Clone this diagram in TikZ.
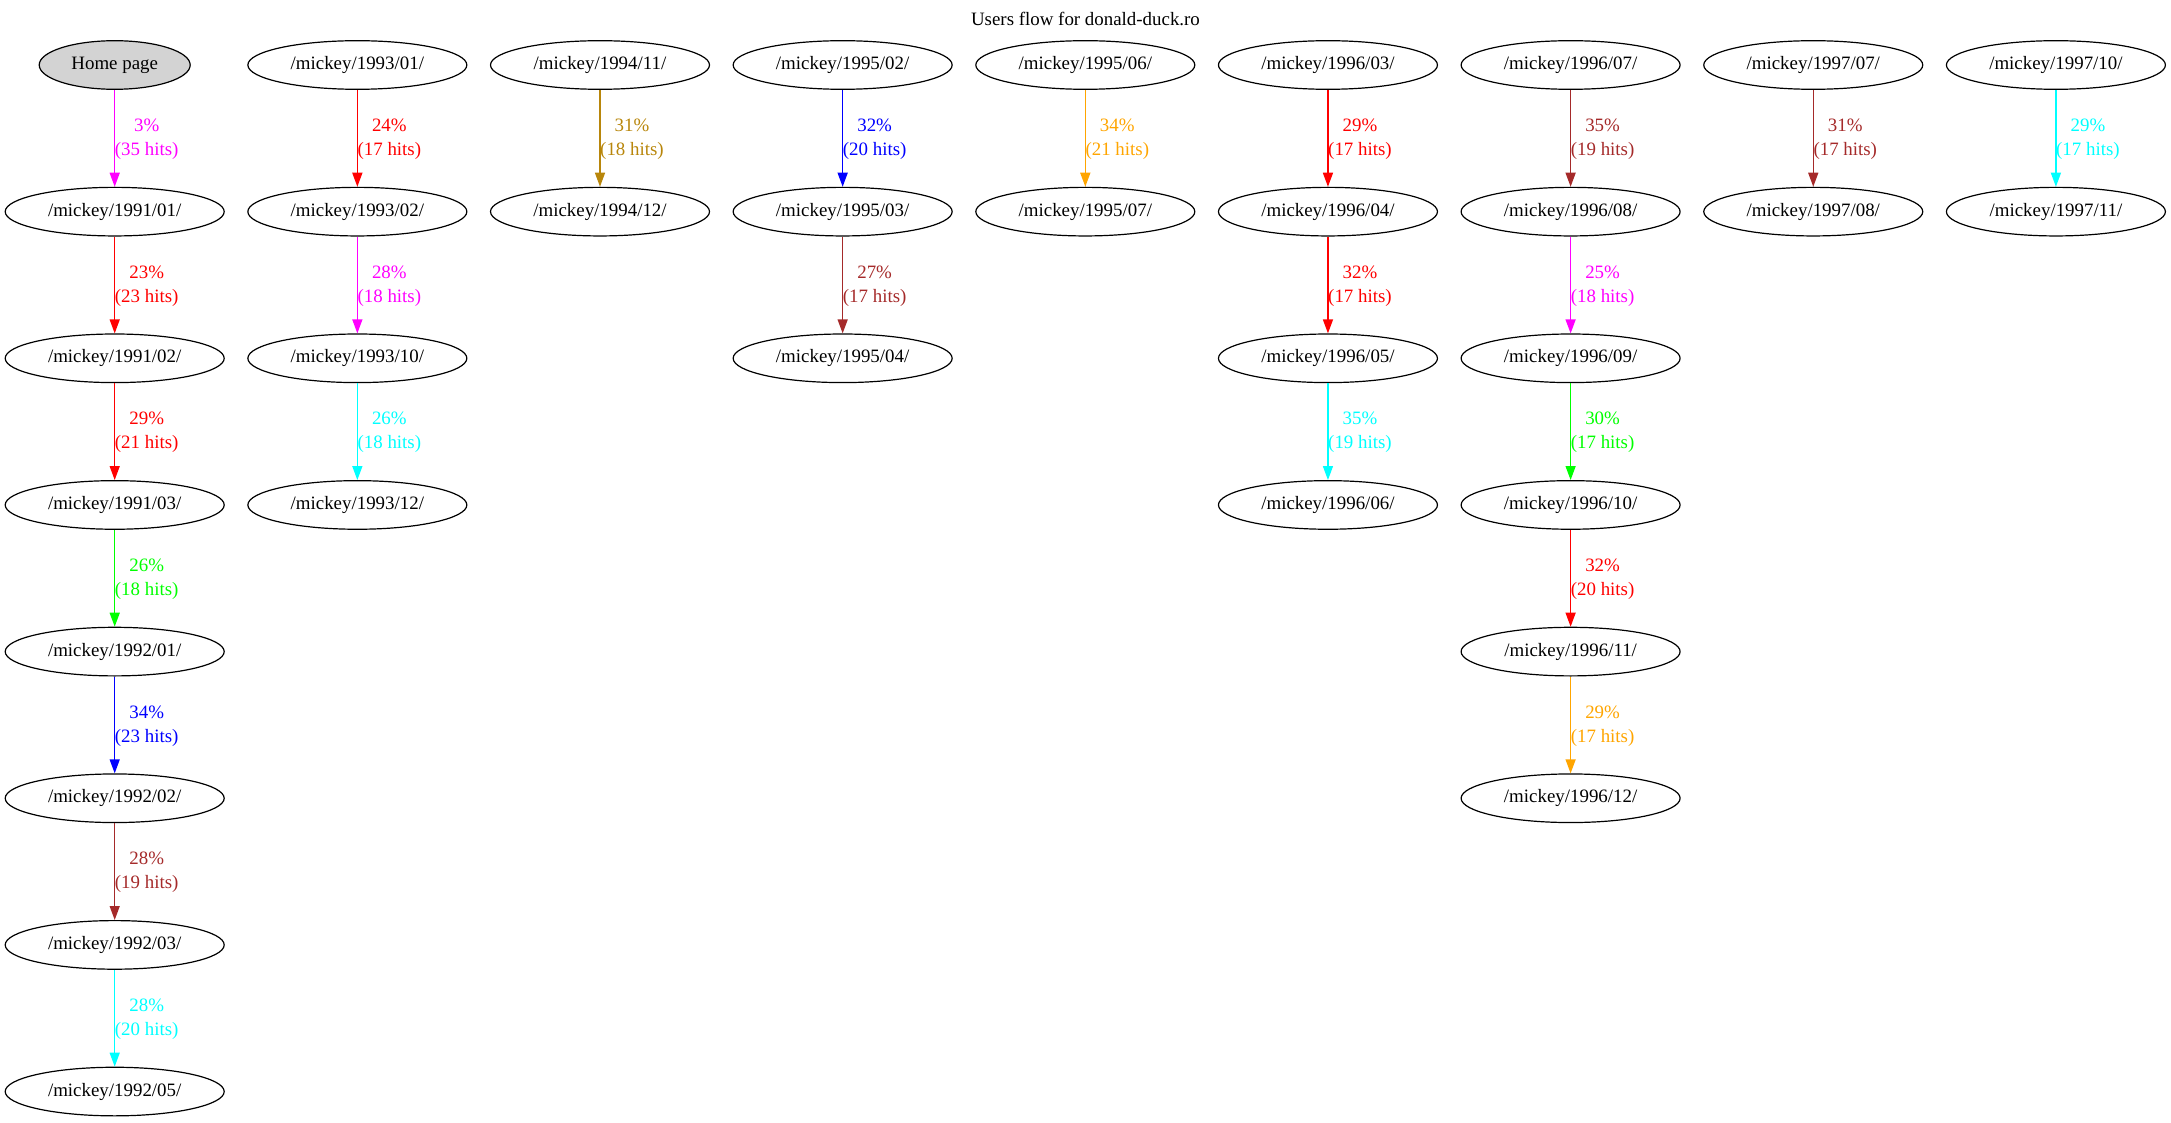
\documentclass[tikz,border=0pt]{standalone}
\usepackage{fontspec}
\setmainfont{Liberation Serif}
\usetikzlibrary{arrows.meta,shapes.geometric}
\definecolor{gvmagenta}{HTML}{FF00FF}
\definecolor{gvred}{HTML}{FF0000}
\definecolor{gvgreen}{HTML}{00FF00}
\definecolor{gvblue}{HTML}{0000FF}
\definecolor{gvbrown}{HTML}{A52A2A}
\definecolor{gvcyan}{HTML}{00FFFF}
\definecolor{gvorange}{HTML}{FFA500}
\definecolor{gvgold}{HTML}{B8860B}
\definecolor{gvgrey}{HTML}{D3D3D3}
\tikzset{
  page/.style={ellipse, draw=black, line width=1.2pt, minimum width=219pt, minimum height=48.6pt, inner sep=0pt, font=\fontsize{18.9}{22}\selectfont},
  home/.style={page, fill=gvgrey, minimum width=151pt},
  flow/.style={line width=1.35pt, draw=#1, -{Triangle[length=14pt,width=10pt,fill=#1]}},
  lbl/.style={text=#1, align=center, inner sep=0pt, font=\fontsize{18.9}{24}\selectfont},
}
\newcommand{\colx}[1]{114.7+242.65*#1}
\newcommand{\ry}[1]{-65-146.65*#1}
\newcommand{\flowedge}[5]{%
  \draw[flow=#3] (#1) -- (#2);
  \path (#1.center) -- (#2.center) node[midway, xshift=32pt, yshift=-1pt, lbl=#3] {#4\%\\(#5 hits)};
}
\begin{document}
\begin{tikzpicture}[x=1pt,y=1pt]
\useasboundingbox (0,0) rectangle (2171,-1123);
\node[font=\fontsize{18.9}{22}\selectfont] (title) at (1085.5,-19) {Users flow for donald-duck.ro};
% column 0
\node[home] (h) at ({\colx{0}},{\ry{0}}) {Home page};
\node[page] (a1) at ({\colx{0}},{\ry{1}}) {/mickey/1991/01/};
\node[page] (a2) at ({\colx{0}},{\ry{2}}) {/mickey/1991/02/};
\node[page] (a3) at ({\colx{0}},{\ry{3}}) {/mickey/1991/03/};
\node[page] (a4) at ({\colx{0}},{\ry{4}}) {/mickey/1992/01/};
\node[page] (a5) at ({\colx{0}},{\ry{5}}) {/mickey/1992/02/};
\node[page] (a6) at ({\colx{0}},{\ry{6}}) {/mickey/1992/03/};
\node[page] (a7) at ({\colx{0}},{\ry{7}}) {/mickey/1992/05/};
% column 1
\node[page] (b0) at ({\colx{1}},{\ry{0}}) {/mickey/1993/01/};
\node[page] (b1) at ({\colx{1}},{\ry{1}}) {/mickey/1993/02/};
\node[page] (b2) at ({\colx{1}},{\ry{2}}) {/mickey/1993/10/};
\node[page] (b3) at ({\colx{1}},{\ry{3}}) {/mickey/1993/12/};
% column 2
\node[page] (c0) at ({\colx{2}},{\ry{0}}) {/mickey/1994/11/};
\node[page] (c1) at ({\colx{2}},{\ry{1}}) {/mickey/1994/12/};
% column 3
\node[page] (d0) at ({\colx{3}},{\ry{0}}) {/mickey/1995/02/};
\node[page] (d1) at ({\colx{3}},{\ry{1}}) {/mickey/1995/03/};
\node[page] (d2) at ({\colx{3}},{\ry{2}}) {/mickey/1995/04/};
% column 4
\node[page] (e0) at ({\colx{4}},{\ry{0}}) {/mickey/1995/06/};
\node[page] (e1) at ({\colx{4}},{\ry{1}}) {/mickey/1995/07/};
% column 5
\node[page] (f0) at ({\colx{5}},{\ry{0}}) {/mickey/1996/03/};
\node[page] (f1) at ({\colx{5}},{\ry{1}}) {/mickey/1996/04/};
\node[page] (f2) at ({\colx{5}},{\ry{2}}) {/mickey/1996/05/};
\node[page] (f3) at ({\colx{5}},{\ry{3}}) {/mickey/1996/06/};
% column 6
\node[page] (g0) at ({\colx{6}},{\ry{0}}) {/mickey/1996/07/};
\node[page] (g1) at ({\colx{6}},{\ry{1}}) {/mickey/1996/08/};
\node[page] (g2) at ({\colx{6}},{\ry{2}}) {/mickey/1996/09/};
\node[page] (g3) at ({\colx{6}},{\ry{3}}) {/mickey/1996/10/};
\node[page] (g4) at ({\colx{6}},{\ry{4}}) {/mickey/1996/11/};
\node[page] (g5) at ({\colx{6}},{\ry{5}}) {/mickey/1996/12/};
% column 7
\node[page] (k0) at ({\colx{7}},{\ry{0}}) {/mickey/1997/07/};
\node[page] (k1) at ({\colx{7}},{\ry{1}}) {/mickey/1997/08/};
% column 8
\node[page] (m0) at ({\colx{8}},{\ry{0}}) {/mickey/1997/10/};
\node[page] (m1) at ({\colx{8}},{\ry{1}}) {/mickey/1997/11/};
% edges
\flowedge{h}{a1}{gvmagenta}{3}{35}
\flowedge{a1}{a2}{gvred}{23}{23}
\flowedge{a2}{a3}{gvred}{29}{21}
\flowedge{a3}{a4}{gvgreen}{26}{18}
\flowedge{a4}{a5}{gvblue}{34}{23}
\flowedge{a5}{a6}{gvbrown}{28}{19}
\flowedge{a6}{a7}{gvcyan}{28}{20}
\flowedge{b0}{b1}{gvred}{24}{17}
\flowedge{b1}{b2}{gvmagenta}{28}{18}
\flowedge{b2}{b3}{gvcyan}{26}{18}
\flowedge{c0}{c1}{gvgold}{31}{18}
\flowedge{d0}{d1}{gvblue}{32}{20}
\flowedge{d1}{d2}{gvbrown}{27}{17}
\flowedge{e0}{e1}{gvorange}{34}{21}
\flowedge{f0}{f1}{gvred}{29}{17}
\flowedge{f1}{f2}{gvred}{32}{17}
\flowedge{f2}{f3}{gvcyan}{35}{19}
\flowedge{g0}{g1}{gvbrown}{35}{19}
\flowedge{g1}{g2}{gvmagenta}{25}{18}
\flowedge{g2}{g3}{gvgreen}{30}{17}
\flowedge{g3}{g4}{gvred}{32}{20}
\flowedge{g4}{g5}{gvorange}{29}{17}
\flowedge{k0}{k1}{gvbrown}{31}{17}
\flowedge{m0}{m1}{gvcyan}{29}{17}
\end{tikzpicture}
\end{document}
